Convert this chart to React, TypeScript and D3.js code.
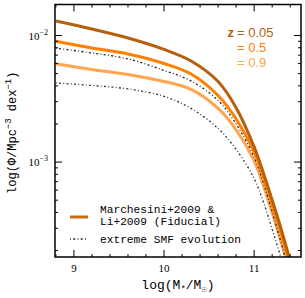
import React from 'react';
import * as d3 from 'd3';

// stellar mass grid, log(M*/Msun)
const logMass = [8.8, 9.2, 9.6, 10.0, 10.3, 10.6, 10.8, 11.0, 11.1, 11.2, 11.3, 11.4];

// log10 Phi
const fidZ005 = [-1.886, -1.949, -2.02, -2.11, -2.201, -2.363, -2.57, -2.88, -3.08, -3.3, -3.53, -3.78];
const fidZ05 = [-2.045, -2.099, -2.146, -2.221, -2.304, -2.474, -2.66, -2.92, -3.11, -3.33, -3.56, -3.81];
const fidZ09 = [-2.223, -2.268, -2.308, -2.363, -2.426, -2.576, -2.745, -2.99, -3.18, -3.4, -3.63, -3.87];
const extremeA = [-2.1, -2.138, -2.185, -2.276, -2.359, -2.513, -2.7, -2.96, -3.16, -3.39, -3.64, -3.9];
const extremeB = [-2.375, -2.395, -2.422, -2.481, -2.576, -2.734, -2.9, -3.13, -3.31, -3.53, -3.76, -4.0];

const xTicks = [9, 10, 11];
const yTicks = [1e-3, 1e-2];
const yTickLabels = ['-3', '-2'];
const redshiftLabels = ['0.05', '0.5', '0.9'];

const W = 305, H = 298;
const left = 55, right = 301, top = 4.5, bottom = 257;

const cBrown = '#b5600f';
const cOrange = '#ff7f00';
const cLight = '#ffa54f';

const x = d3.scaleLinear().domain([8.79, 11.52]).range([left, right]);
const y = d3.scaleLog().domain([Math.pow(10, -3.75), Math.pow(10, -1.755)]).range([bottom, top]);

const line = d3.line<[number, number]>()
  .x(d => x(d[0]))
  .y(d => y(Math.pow(10, d[1])))
  .curve(d3.curveCatmullRom.alpha(0.5));

const pts = (vals: number[]) => logMass.map((m, i) => [m, vals[i]] as [number, number]);

const App = () => {
  const minorX = d3.range(8.8, 11.55, 0.2).filter(v => !xTicks.some(t => Math.abs(t - v) < 1e-6));
  const minorY: number[] = [];
  [1e-4, 1e-3, 1e-2].forEach(dec => {
    for (let k = 2; k <= 9; k++) {
      const v = dec * k;
      if (v > y.domain()[0] && v < y.domain()[1]) minorY.push(v);
    }
  });
  const mono = '"Liberation Mono", "DejaVu Sans Mono", monospace';
  const serif = '"Liberation Serif", "DejaVu Serif", serif';
  const sans = '"Liberation Sans", "DejaVu Sans", sans-serif';
  const dotted = '0.9 2.3 2 2.3';

  return (
    <svg width={W} height={H} style={{ position: 'absolute', left: 0, top: 0, background: '#fff' }}>
      <defs>
        <clipPath id="plot">
          <rect x={left} y={top} width={right - left} height={bottom - top} />
        </clipPath>
      </defs>
      <g clipPath="url(#plot)" fill="none" strokeLinecap="butt">
        <path d={line(pts(extremeB)) || ''} stroke="#333" strokeWidth={1.3} strokeDasharray={dotted} />
        <path d={line(pts(fidZ09)) || ''} stroke={cLight} strokeWidth={3} />
        <path d={line(pts(extremeA)) || ''} stroke="#222" strokeWidth={1.3} strokeDasharray={dotted} />
        <path d={line(pts(fidZ05)) || ''} stroke={cOrange} strokeWidth={3} />
        <path d={line(pts(fidZ005)) || ''} stroke={cBrown} strokeWidth={3} />
      </g>

      {/* ticks */}
      <g stroke="#000" strokeWidth={1}>
        {xTicks.map(t => (
          <g key={'xt' + t}>
            <line x1={x(t)} x2={x(t)} y1={bottom} y2={bottom - 7} />
            <line x1={x(t)} x2={x(t)} y1={top} y2={top + 7} />
          </g>
        ))}
        {minorX.map(t => (
          <g key={'xm' + t}>
            <line x1={x(t)} x2={x(t)} y1={bottom} y2={bottom - 3} />
            <line x1={x(t)} x2={x(t)} y1={top} y2={top + 3} />
          </g>
        ))}
        {yTicks.map(t => (
          <g key={'yt' + t}>
            <line x1={left} x2={left + 7} y1={y(t)} y2={y(t)} />
            <line x1={right} x2={right - 7} y1={y(t)} y2={y(t)} />
          </g>
        ))}
        {minorY.map(t => (
          <g key={'ym' + t}>
            <line x1={left} x2={left + 3} y1={y(t)} y2={y(t)} />
            <line x1={right} x2={right - 3} y1={y(t)} y2={y(t)} />
          </g>
        ))}
      </g>
      <rect x={left} y={top} width={right - left} height={bottom - top} fill="none" stroke="#000" strokeWidth={1.5} />

      {/* tick labels */}
      {xTicks.map(t => (
        <text key={'xl' + t} x={x(t)} y={bottom + 15} textAnchor="middle" fontFamily={serif} fontSize={11}>{t}</text>
      ))}
      {yTicks.map((t, i) => (
        <text key={'yl' + t} x={left - 7} y={y(t) + 4} textAnchor="end" fontFamily={serif} fontSize={11}>
          10<tspan dy={-5} fontSize={8}>{'\u2212' + yTickLabels[i].slice(1)}</tspan>
        </text>
      ))}

      {/* axis titles */}
      <text x={(left + right) / 2} y={289} textAnchor="middle" fontFamily={mono} fontSize={13}>
        log(M<tspan dy={3} fontSize={9}>*</tspan><tspan dy={-3}>/M</tspan><tspan dy={3} fontSize={9}>☉</tspan><tspan dy={-3}>)</tspan>
      </text>
      <text transform={`translate(16,${(top + bottom) / 2 + 2}) rotate(-90)`} textAnchor="middle" fontFamily={mono} fontSize={12}>
        log(Φ/Mpc<tspan dy={-5} fontSize={9}>−3</tspan><tspan dy={5}> dex</tspan><tspan dy={-5} fontSize={9}>−1</tspan><tspan dy={5}>)</tspan>
      </text>

      {/* redshift labels */}
      <g fontFamily={sans} fontSize={13}>
        <text x={234} y={37} textAnchor="end" fill={cBrown} fontWeight="bold">z</text>
        {redshiftLabels.map((z, i) => (
          <text key={z} x={237} y={37 + i * 15} fill={[cBrown, cOrange, cLight][i]}>= {z}</text>
        ))}
      </g>

      {/* legend */}
      <line x1={70} x2={88} y1={217} y2={217} stroke="#cc6a10" strokeWidth={3} />
      <text x={100} y={213} fontFamily={mono} fontSize={11.2}>Marchesini+2009 &amp;</text>
      <text x={100} y={225} fontFamily={mono} fontSize={11.2}>Li+2009 (Fiducial)</text>
      <line x1={70} x2={88} y1={239} y2={239} stroke="#222" strokeWidth={1.3} strokeDasharray={dotted} />
      <text x={100} y={243} fontFamily={mono} fontSize={11.2}>extreme SMF evolution</text>
    </svg>
  );
};

export default App;
